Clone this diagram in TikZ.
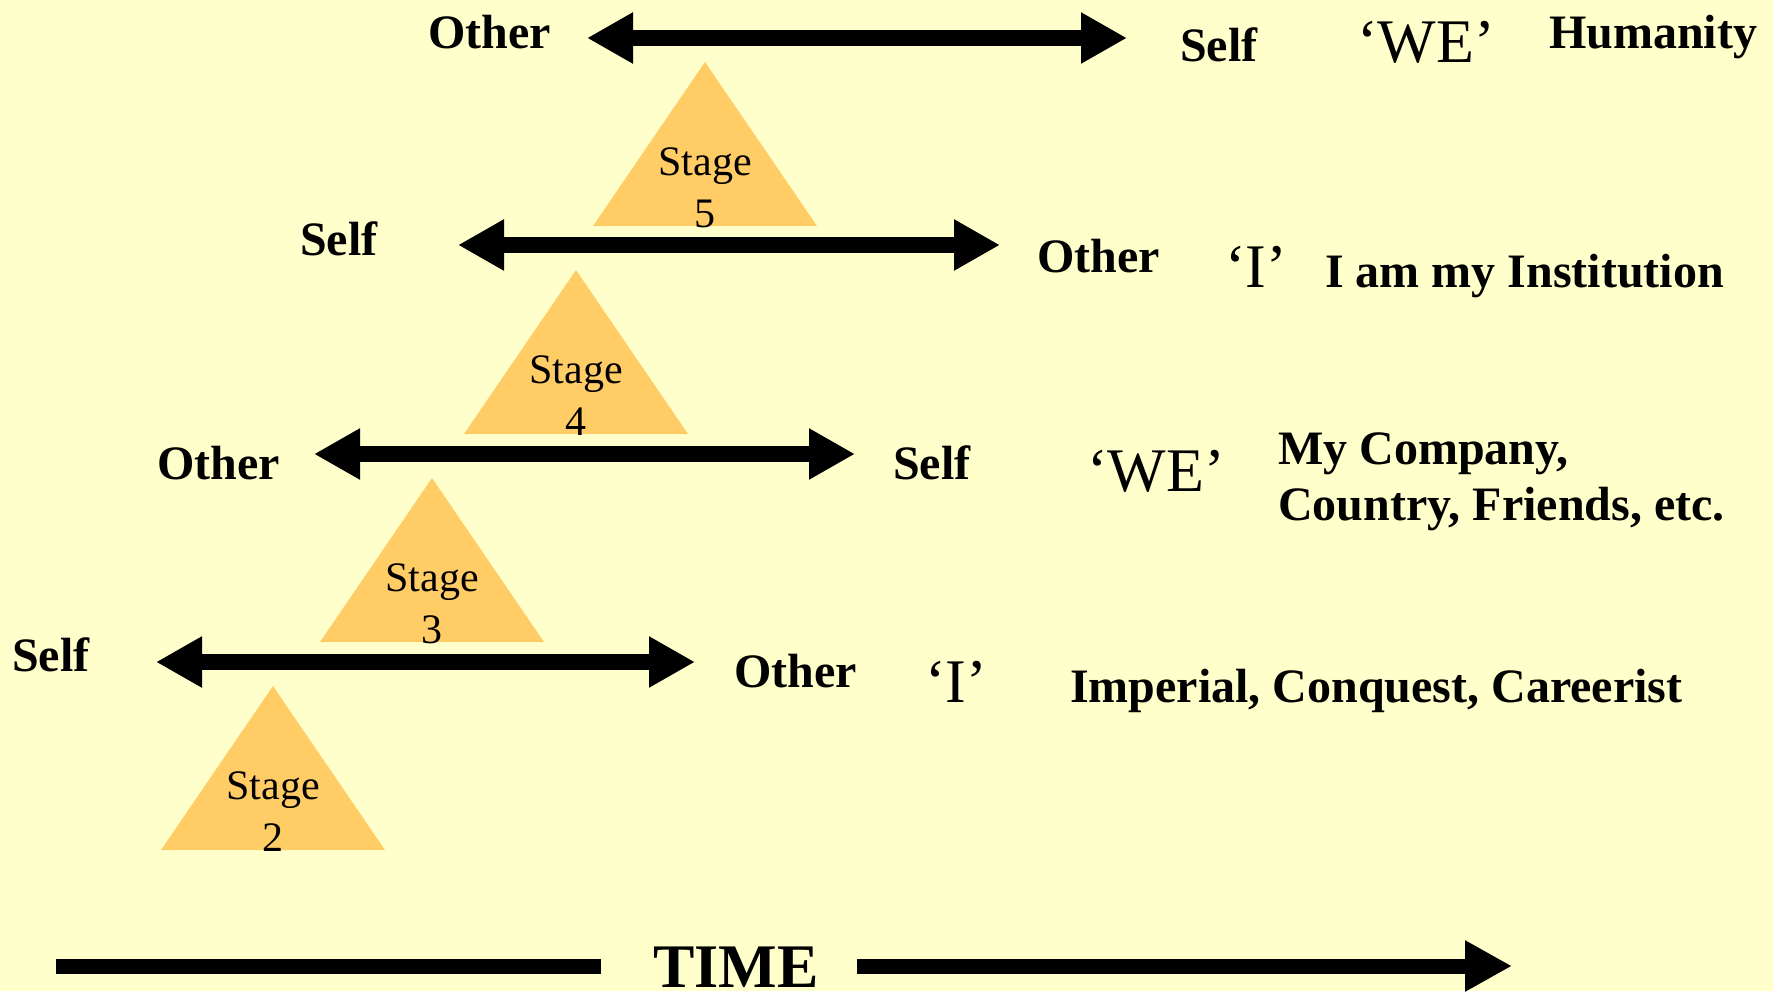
\documentclass[tikz,border=0pt]{standalone}
\usepackage{fontspec}
\setmainfont{Liberation Serif}
\usetikzlibrary{arrows.meta}
\definecolor{paper}{RGB}{255,255,204}
\definecolor{stagefill}{RGB}{255,204,102}
\tikzset{
  lbl/.style={font=\fontsize{48}{56}\selectfont\bfseries, inner sep=0pt, anchor=base west},
  pron/.style={font=\fontsize{62}{70}\selectfont, inner sep=0pt, anchor=base west},
  stagetxt/.style={font=\fontsize{42}{50}\selectfont, inner sep=0pt, anchor=base},
  twoway/.style={line width=15.5pt,
    {Triangle[length=46pt,width=48pt]}-{Triangle[length=46pt,width=48pt]}},
  oneway/.style={line width=15pt, -{Triangle[length=47pt,width=48pt]}},
  bar/.style={line width=15pt},
  tri/.style={fill=stagefill}
}
\begin{document}
\begin{tikzpicture}[x=1pt,y=-1pt]
\fill[paper] (0,0) rectangle (1773,991);
\useasboundingbox (0,0) rectangle (1773,991);

% stage triangles with their labels
\coordinate (apex5) at (705,62);
\coordinate (apex4) at (576,270);
\coordinate (apex3) at (432,478);
\coordinate (apex2) at (273,686);
\foreach \n in {5,4,3,2}{
  \fill[tri] (apex\n) -- ++(-112,164) -- ++(224,0) -- cycle;
  \node[stagetxt] (stage\n) at ([yshift=-113pt]apex\n) {Stage};
  \node[stagetxt] (num\n) at ([yshift=-165pt]apex\n) {\n};
}

% level 5
\node[lbl] (o1) at (428,48) {Other};
\coordinate (a1l) at (587,38);
\coordinate (a1r) at (1127,38);
\draw[twoway] (a1l) -- (a1r);
\node[lbl] (s1) at (1180,61) {Self};
\node[pron] (p1) at (1357,62) {‘WE’};
\node[lbl] (h1) at (1549,48) {Humanity};

% level 4
\node[lbl] (s2) at (300,255) {Self};
\coordinate (a2l) at (458,245);
\coordinate (a2r) at (1000,245);
\draw[twoway] (a2l) -- (a2r);
\node[lbl] (o2) at (1037,272) {Other};
\node[pron] (p2) at (1225,287) {‘I’};
\node[lbl] (d2) at (1325,287) {I am my Institution};

% level 3
\node[lbl] (o3) at (157,479) {Other};
\coordinate (a3l) at (314,454);
\coordinate (a3r) at (855,454);
\draw[twoway] (a3l) -- (a3r);
\node[lbl] (s3) at (893,479) {Self};
\node[pron] (p3) at (1087,491) {‘WE’};
\node[lbl] (d3a) at (1278,464) {My Company,};
\node[lbl] (d3b) at (1278,520) {Country, Friends, etc.};

% level 2
\node[lbl] (s4) at (12,671) {Self};
\coordinate (a4l) at (156,662);
\coordinate (a4r) at (695,662);
\draw[twoway] (a4l) -- (a4r);
\node[lbl] (o4) at (734,687) {Other};
\node[pron] (p4) at (925,702) {‘I’};
\node[lbl] (d4) at (1070,702) {Imperial, Conquest, Careerist};

% time axis
\coordinate (t0) at (56,966);
\coordinate (t1) at (601,966);
\coordinate (t2) at (857,966);
\coordinate (t3) at (1512,966);
\node[font=\fontsize{62}{70}\selectfont\bfseries, inner sep=0pt, anchor=base] (time) at (736,987) {TIME};
\draw[bar] (t0) -- (t1);
\draw[oneway] (t2) -- (t3);
\end{tikzpicture}
\end{document}
